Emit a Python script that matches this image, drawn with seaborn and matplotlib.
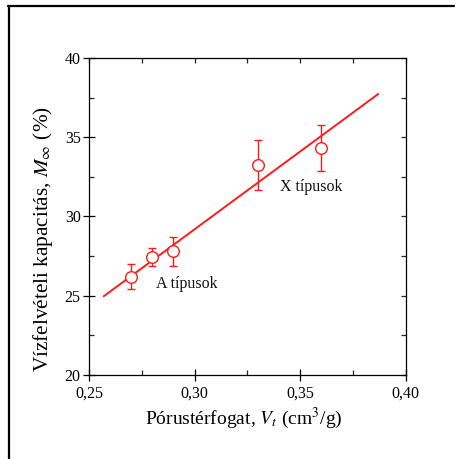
import matplotlib
matplotlib.use("Agg")
import matplotlib.pyplot as plt
from matplotlib.lines import Line2D
from matplotlib.ticker import MultipleLocator, FuncFormatter
import seaborn as sns
import pandas as pd

# data
pore_volume = [0.27, 0.28, 0.29, 0.33, 0.36]
capacity = [26.2, 27.45, 27.8, 33.25, 34.3]
capacity_err = [0.8, 0.55, 0.9, 1.6, 1.45]
fit_x = [0.257, 0.387]
fit_y = [24.97, 37.73]
ann_text = ["X típusok", "A típusok"]
ann_x = [0.3405, 0.2815]
ann_y = [31.85, 25.75]

sns.set_theme(style="white")
plt.rcParams['font.family'] = ['Liberation Serif', 'DejaVu Serif']
plt.rcParams['mathtext.fontset'] = 'stix'

fig = plt.figure(figsize=(4.59, 4.59), dpi=100)
ax = fig.add_axes([89/459, 1-375/459, (405.7-89)/459, (375-58)/459])

df = pd.DataFrame({"x": pore_volume, "y": capacity, "err": capacity_err})
fit = pd.DataFrame({"x": fit_x, "y": fit_y})

red = "#ff1a1a"
sns.lineplot(data=fit, x="x", y="y", ax=ax, color=red, lw=1.4)
ax.errorbar(df["x"], df["y"], yerr=df["err"], fmt="none", ecolor=red,
            elinewidth=1.0, capsize=2.8, capthick=1.0)
sns.scatterplot(data=df, x="x", y="y", ax=ax, marker="o", s=70,
                facecolor="white", edgecolor=red, linewidth=1.0, zorder=5)

for t, x, y in zip(ann_text, ann_x, ann_y):
    ax.text(x, y, t, fontsize=11.5, va="center", ha="left", color="#111111")

ax.set_xlim(0.25, 0.40)
ax.set_ylim(20, 40)
ax.xaxis.set_major_locator(MultipleLocator(0.05))
ax.xaxis.set_minor_locator(MultipleLocator(0.025))
ax.yaxis.set_major_locator(MultipleLocator(5))
ax.yaxis.set_minor_locator(MultipleLocator(2.5))
ax.xaxis.set_major_formatter(FuncFormatter(lambda v, p: f"{v:.2f}".replace(".", ",")))
ax.yaxis.set_major_formatter(FuncFormatter(lambda v, p: f"{v:.0f}"))

for s in ax.spines.values():
    s.set_linewidth(0.9)
    s.set_color("black")

ax.tick_params(which="major", direction="inout", length=8, width=0.9,
               labelsize=11.5, colors="black", pad=2)
ax.tick_params(axis="x", which="major", pad=4)
ax.tick_params(which="minor", direction="in", length=3.5, width=0.9)
ax.tick_params(which="both", bottom=True, left=True, top=False, right=False)

# top / right inward ticks
sx = ax.secondary_xaxis("top")
sx.xaxis.set_major_locator(MultipleLocator(0.025))
sx.tick_params(direction="in", length=3.5, width=0.9, labeltop=False)
sx.spines["top"].set_visible(False)
sy = ax.secondary_yaxis("right")
sy.yaxis.set_major_locator(MultipleLocator(2.5))
sy.tick_params(direction="in", length=3.5, width=0.9, labelright=False)
sy.spines["right"].set_visible(False)

ax.set_xlabel("Pórustérfogat, $V_t$ (cm$^3$/g)", fontsize=14, color="black")
ax.set_ylabel("Vízfelvételi kapacitás, $M_\\infty$ (%)", fontsize=15.3, color="black")
ax.xaxis.set_label_coords(0.49, -0.136, transform=ax.transAxes)
ax.xaxis.label.set_va("center")
ax.yaxis.set_label_coords(-0.145, 0.429, transform=ax.transAxes)
ax.yaxis.label.set_va("center")

# outer frame lines (top and left)
fig.add_artist(Line2D([8/459, 454/459], [1-5.5/459, 1-5.5/459],
                      transform=fig.transFigure, color="black", lw=1.6))
fig.add_artist(Line2D([9/459, 9/459], [1-5.5/459, 0],
                      transform=fig.transFigure, color="black", lw=1.6))

fig.savefig("out.png", dpi=100, facecolor="white")
